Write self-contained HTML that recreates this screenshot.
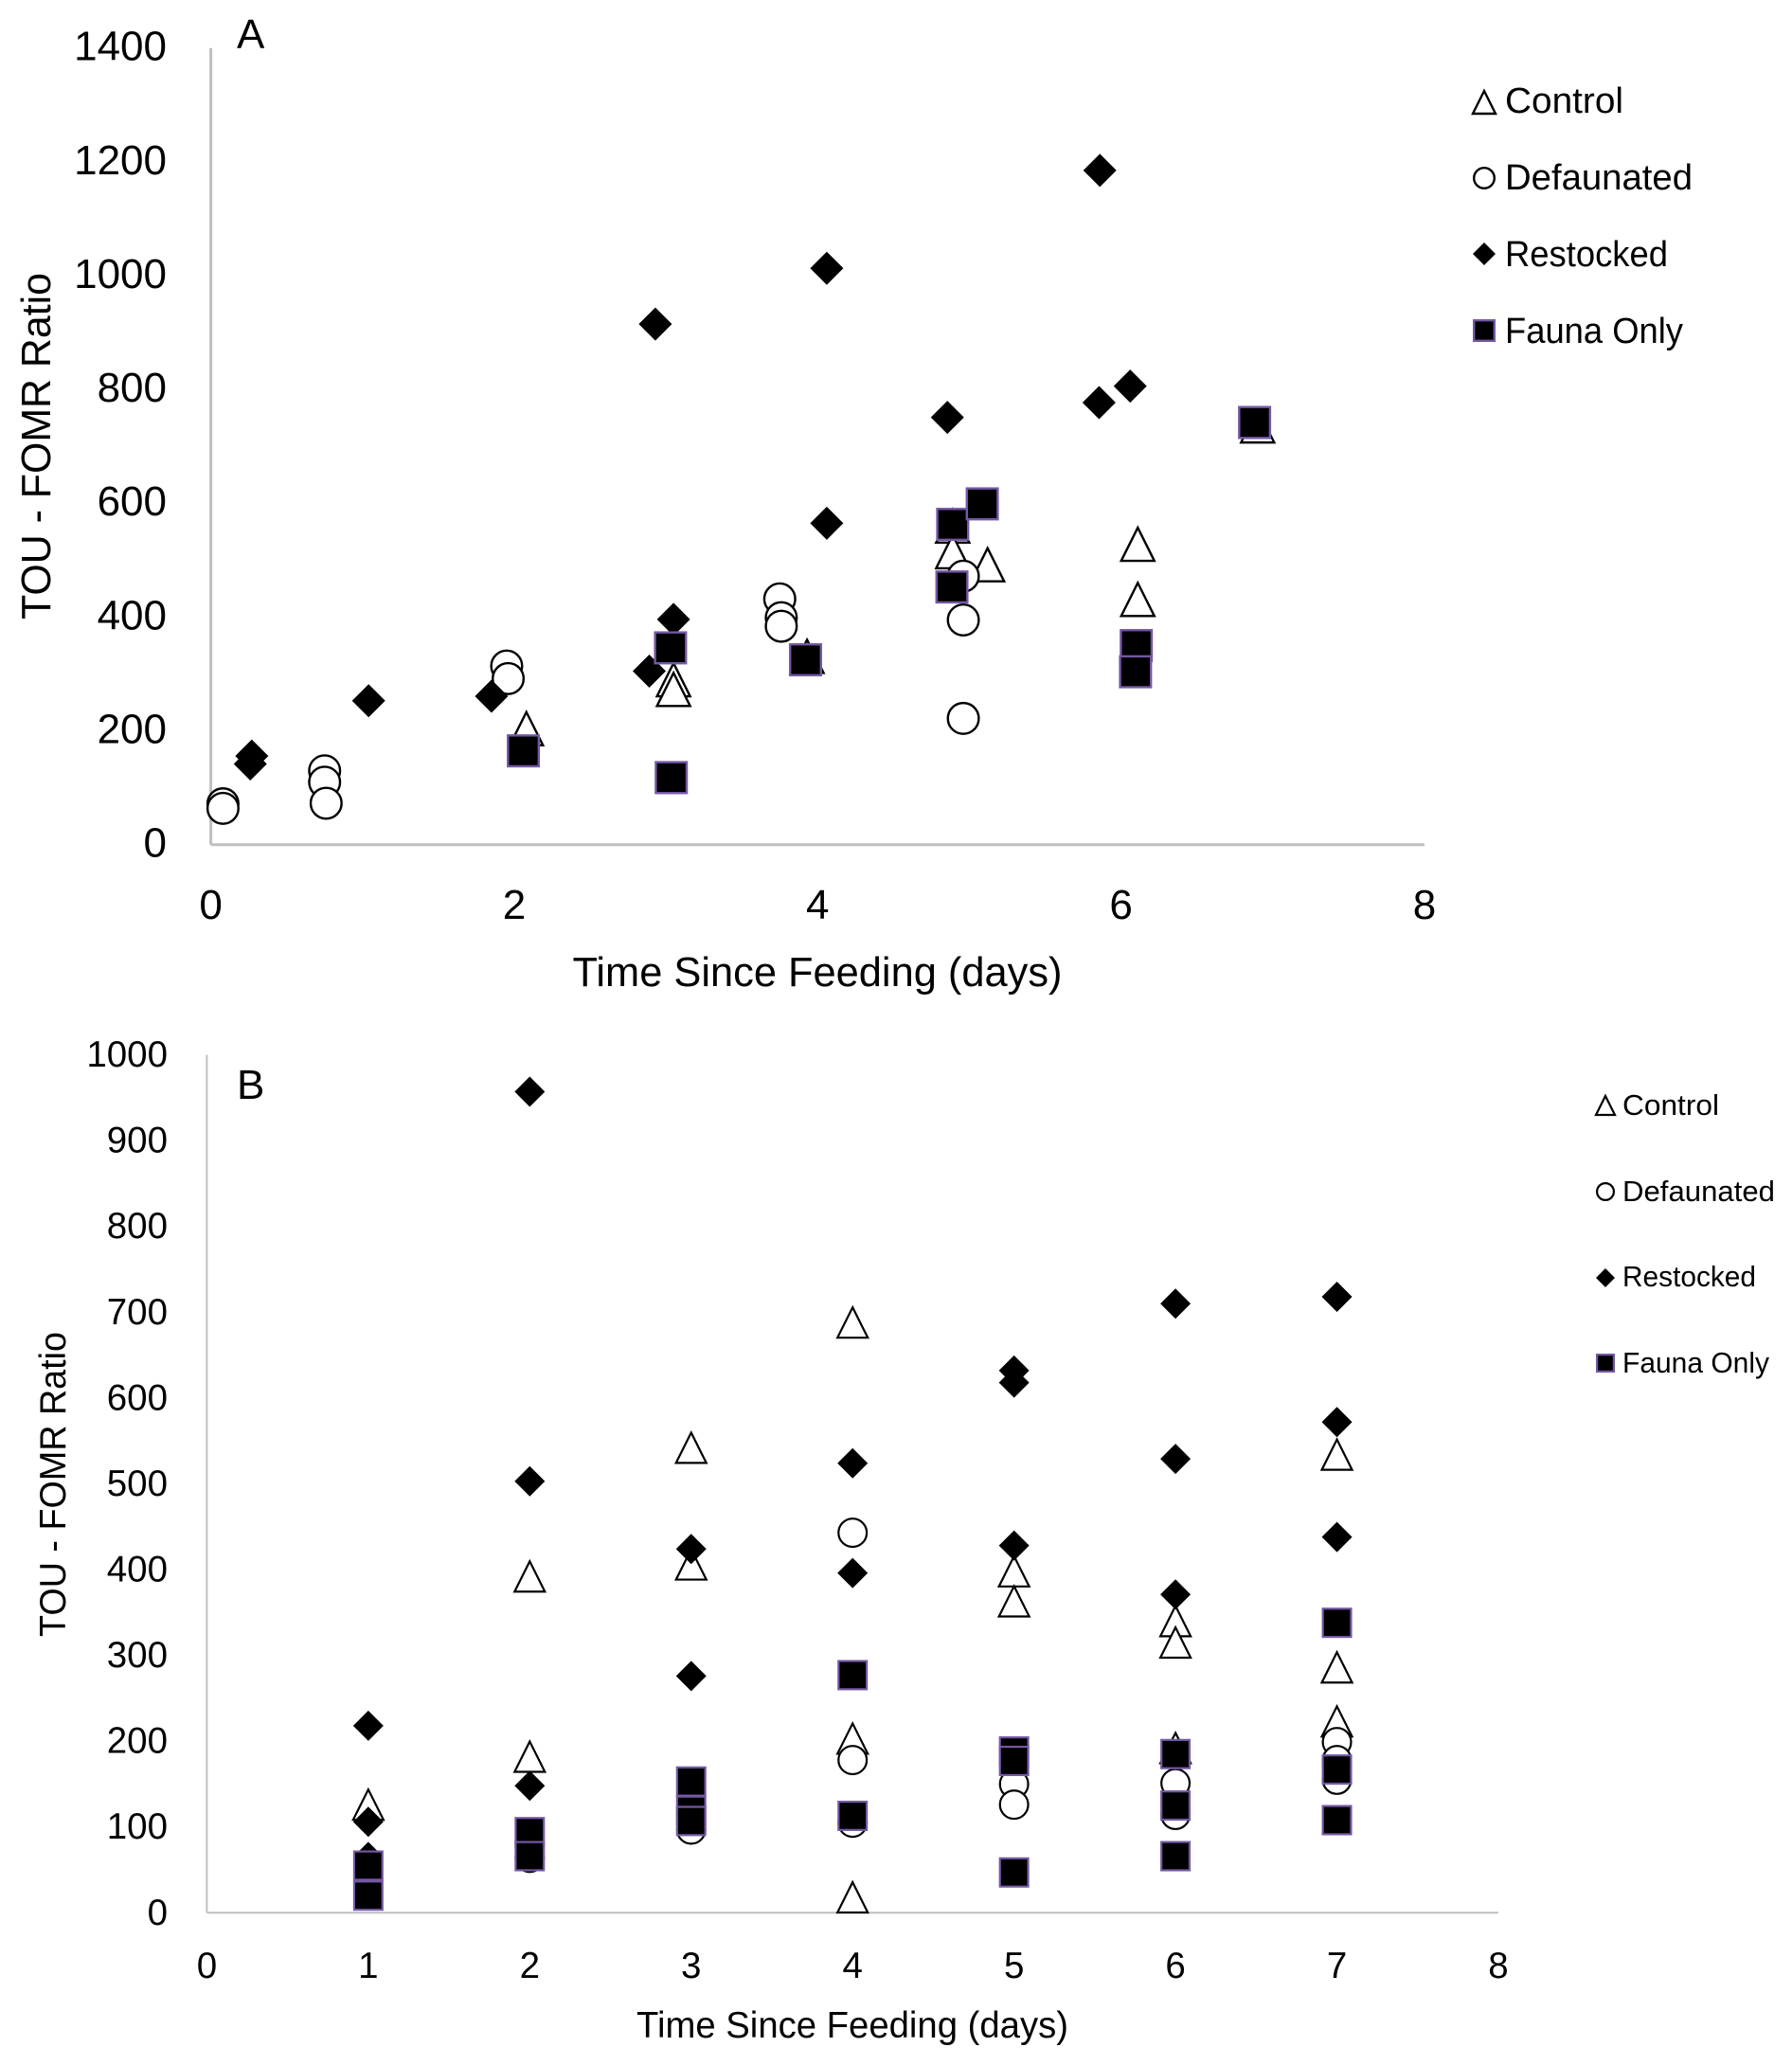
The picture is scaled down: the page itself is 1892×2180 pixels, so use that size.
<!DOCTYPE html>
<html lang="en">
<head>
<meta charset="utf-8">
<title>TOU - FOMR Ratio vs Time Since Feeding</title>
<style>
html,body{margin:0;padding:0;background:#fff;}
svg{display:block;}
text{font-family:"Liberation Sans",sans-serif;fill:#000;}
</style>
</head>
<body>
<svg id="figure" xmlns="http://www.w3.org/2000/svg" width="1892" height="2180" viewBox="0 0 1892 2180">
  <rect width="1892" height="2180" fill="#fff"/>
  <g id="panel-a">
    <text x="250" y="51" font-size="44">A</text>
    <text transform="translate(53 471) rotate(-90)" text-anchor="middle" font-size="44" textLength="366" lengthAdjust="spacingAndGlyphs">TOU - FOMR Ratio</text>
    <text x="863" y="1041" text-anchor="middle" font-size="44" textLength="517" lengthAdjust="spacingAndGlyphs">Time Since Feeding (days)</text>
  </g>
  <g id="panel-b">
    <text x="250" y="1160" font-size="44">B</text>
    <text transform="translate(69 1567) rotate(-90)" text-anchor="middle" font-size="38.5" textLength="322" lengthAdjust="spacingAndGlyphs">TOU - FOMR Ratio</text>
    <text x="900" y="2151" text-anchor="middle" font-size="38.5" textLength="456" lengthAdjust="spacingAndGlyphs">Time Since Feeding (days)</text>
  </g>
</svg>
<script>
// Shared categories
const seriesNames = ['Control', 'Defaunated', 'Restocked', 'Fauna Only'];

// Panel A tick labels
const aXTicks = [0, 2, 4, 6, 8];
const aYTicks = [0, 200, 400, 600, 800, 1000, 1200, 1400];

// Panel A values
const aControlX = [2.08, 3.05, 3.05, 3.93, 4.89, 4.89, 5.12, 6.11, 6.11, 6.9];
const aControlY = [204, 290, 273, 331, 560, 515, 492, 528, 431, 736];
const aDefaunatedX = [0.08, 0.08, 0.75, 0.75, 0.76, 1.95, 1.96, 3.75, 3.76, 3.76, 4.96, 4.96, 4.96];
const aDefaunatedY = [72, 64, 130, 110, 73, 314, 292, 432, 399, 384, 472, 395, 222];
const aRestockedX = [0.27, 0.26, 1.04, 1.85, 2.93, 2.89, 3.05, 4.06, 4.06, 4.855, 5.86, 5.855, 6.06];
const aRestockedY = [156, 142, 253, 261, 915, 305, 396, 1013, 565, 751, 1185, 777, 806];
const aFaunaX = [2.06, 3.03, 3.035, 3.92, 4.89, 5.085, 4.885, 6.1, 6.095, 6.88];
const aFaunaY = [165, 346, 118, 325, 563, 599, 453, 350, 304, 742];

// Panel B tick labels
const bXTicks = [0, 1, 2, 3, 4, 5, 6, 7, 8];
const bYTicks = [0, 100, 200, 300, 400, 500, 600, 700, 800, 900, 1000];

// Panel B values
const bControlX = [1, 2, 2, 3, 3, 4, 4, 4, 5, 5, 6, 6, 6, 7, 7, 7];
const bControlY = [126, 392, 182, 542, 406, 688, 203, 18, 398, 363, 340, 315, 192, 534, 286, 223];
const bDefaunatedX = [2, 3, 4, 4, 4, 5, 5, 6, 6, 7, 7, 7];
const bDefaunatedY = [64, 97, 443, 178, 105, 150, 126, 151, 114, 199, 178, 155];
const bRestockedX = [1, 1, 1, 2, 2, 2, 3, 3, 4, 4, 5, 5, 5, 6, 6, 6, 7, 7, 7];
const bRestockedY = [218, 106, 65, 957, 503, 148, 424, 276, 524, 396, 632, 618, 428, 710, 529, 371, 718, 572, 438];
const bFaunaX = [1, 1, 2, 2, 3, 3, 3, 4, 4, 5, 5, 5, 6, 6, 6, 7, 7, 7];
const bFaunaY = [55, 20, 94, 66, 153, 119, 107, 277, 113, 188, 177, 47, 185, 125, 66, 338, 167, 108];

const SVG_NS = 'http://www.w3.org/2000/svg';

function linearScale(domainMax, rangeStart, rangeEnd) {
  return function (v) {
    return rangeStart + (v / domainMax) * (rangeEnd - rangeStart);
  };
}

function create(tag, parent, name, props) {
  const el = document.createElementNS(SVG_NS, tag);
  
  
  for (const key in props) {
    el.setAttribute(key, props[key]);
  }
  parent.appendChild(el);
  return el;
}

function drawMarker(parent, kind, name, cx, cy, size, strokeWidth) {
  const r = size / 2;
  if (kind === 'Control') {
    const pts = [cx, cy - r, cx + r, cy + r, cx - r, cy + r].join(' ');
    create('polygon', parent, name, { points: pts, fill: '#fff', stroke: '#000', 'stroke-width': strokeWidth, 'stroke-linejoin': 'miter' });
  } else if (kind === 'Defaunated') {
    create('circle', parent, name, { cx: cx, cy: cy, r: r - strokeWidth / 2, fill: '#fff', stroke: '#000', 'stroke-width': strokeWidth });
  } else if (kind === 'Restocked') {
    const pts = [cx, cy - r, cx + r, cy, cx, cy + r, cx - r, cy].join(' ');
    create('polygon', parent, name, { points: pts, fill: '#000' });
  } else {
    const s = size - strokeWidth;
    create('rect', parent, name, { x: cx - s / 2, y: cy - s / 2, width: s, height: s, fill: '#000', stroke: '#7458a4', 'stroke-width': strokeWidth });
  }
}

function slug(s) {
  return s.toLowerCase().replace(/\s+/g, '-');
}

function drawPanel(cfg) {
  const g = document.getElementById(cfg.id);
  const xs = linearScale(cfg.xMax, cfg.x0, cfg.x1);
  const ys = linearScale(cfg.yMax, cfg.y0, cfg.y1);

  create('line', g, cfg.prefix + '-y-axis-line', { x1: xs(0), y1: ys(cfg.yMax), x2: xs(0), y2: ys(0), stroke: '#bfbfbf', 'stroke-width': cfg.axisWidth });
  create('line', g, cfg.prefix + '-x-axis-line', { x1: xs(0), y1: ys(0), x2: xs(cfg.xMax), y2: ys(0), stroke: '#bfbfbf', 'stroke-width': cfg.axisWidth });

  cfg.xTicks.forEach(function (t) {
    const el = create('text', g, cfg.prefix + '-x-tick-' + t, { x: xs(t), y: cfg.xTickY, 'text-anchor': 'middle', 'font-size': cfg.tickFont });
    el.textContent = t;
  });
  cfg.yTicks.forEach(function (t) {
    const el = create('text', g, cfg.prefix + '-y-tick-' + t, { x: cfg.yTickX, y: ys(t) + cfg.tickFont * 0.35 + cfg.yTickShift, 'text-anchor': 'end', 'font-size': cfg.tickFont });
    el.textContent = t;
  });

  cfg.series.forEach(function (s) {
    const sg = create('g', g, cfg.prefix + '-series-' + slug(s.name), {});
    s.x.forEach(function (xv, i) {
      drawMarker(sg, s.name, cfg.prefix + '-point-' + slug(s.name), xs(xv), ys(s.y[i]), cfg.markerSize, cfg.markerStroke);
    });
  });

  const legend = create('g', g, cfg.prefix + '-legend', {});
  seriesNames.forEach(function (n, i) {
    const entry = create('g', legend, cfg.prefix + '-legend-entry-' + slug(n), {});
    drawMarker(entry, n, cfg.prefix + '-legend-marker-' + slug(n), cfg.legendMarkerX, cfg.legendMarkerY[i], cfg.legendMarkerSize, cfg.legendStroke);
    const el = create('text', entry, cfg.prefix + '-legend-label-' + slug(n), { x: cfg.legendTextX, y: cfg.legendTextY[i], 'font-size': cfg.legendFont, textLength: cfg.legendWidths[i], lengthAdjust: 'spacingAndGlyphs' });
    el.textContent = n;
  });
}

drawPanel({
  id: 'panel-a', prefix: 'panel-a',
  xMax: 8, yMax: 1400, x0: 222.6, x1: 1504, y0: 891.8, y1: 50.7,
  axisWidth: 3, xTicks: aXTicks, yTicks: aYTicks, xTickY: 970, yTickX: 176, tickFont: 44, yTickShift: -2.5,
  markerSize: 35, markerStroke: 2.4,
  series: [
    { name: 'Control', x: aControlX, y: aControlY },
    { name: 'Defaunated', x: aDefaunatedX, y: aDefaunatedY },
    { name: 'Restocked', x: aRestockedX, y: aRestockedY },
    { name: 'Fauna Only', x: aFaunaX, y: aFaunaY }
  ],
  legendMarkerX: 1567, legendMarkerY: [108, 188, 268, 349], legendMarkerSize: 24, legendStroke: 2.4,
  legendTextX: 1589, legendTextY: [119, 200, 281, 362], legendFont: 38, legendWidths: [125, 198, 172, 188]
});

drawPanel({
  id: 'panel-b', prefix: 'panel-b',
  xMax: 8, yMax: 1000, x0: 218.4, x1: 1582, y0: 2019.3, y1: 1113.6,
  axisWidth: 2, xTicks: bXTicks, yTicks: bYTicks, xTickY: 2088, yTickX: 177, tickFont: 38.5, yTickShift: -1,
  markerSize: 32, markerStroke: 2.2,
  series: [
    { name: 'Control', x: bControlX, y: bControlY },
    { name: 'Defaunated', x: bDefaunatedX, y: bDefaunatedY },
    { name: 'Restocked', x: bRestockedX, y: bRestockedY },
    { name: 'Fauna Only', x: bFaunaX, y: bFaunaY }
  ],
  legendMarkerX: 1695, legendMarkerY: [1167, 1258, 1349, 1439], legendMarkerSize: 20, legendStroke: 2.2,
  legendTextX: 1713, legendTextY: [1177, 1268, 1358, 1449], legendFont: 31, legendWidths: [102, 161, 141, 155]
});
</script>
</body>
</html>
